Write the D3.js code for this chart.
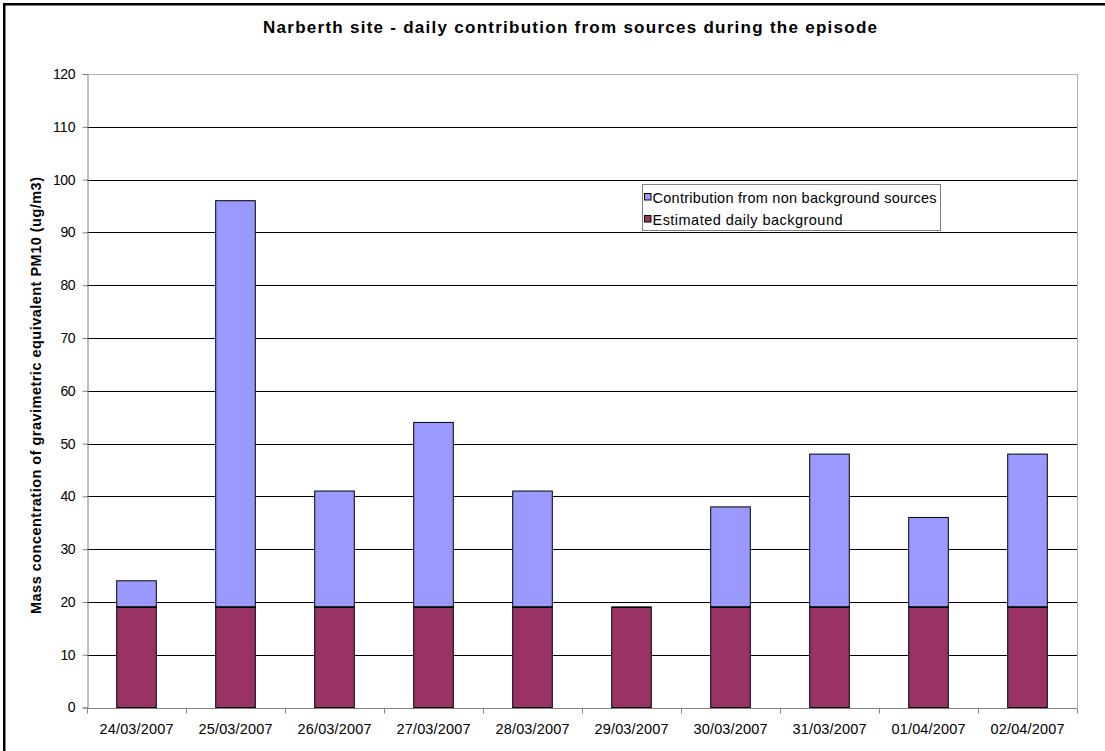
<!DOCTYPE html>
<html>
<head>
<meta charset="utf-8">
<script src="https://cdn.jsdelivr.net/npm/d3@7"></script>
<style>
  html, body { margin: 0; padding: 0; background: #fff; }
  svg { display: block; font-family: "Liberation Sans", Arial, sans-serif; }
</style>
</head>
<body>
<svg id="chart" width="1105" height="751"></svg>
<script>
const title = "Narberth site - daily contribution from sources during the episode";
const yAxisTitle = "Mass concentration of gravimetric equivalent PM10 (ug/m3)";
const categories = ["24/03/2007","25/03/2007","26/03/2007","27/03/2007","28/03/2007","29/03/2007","30/03/2007","31/03/2007","01/04/2007","02/04/2007"];
const background = [19,19,19,19,19,19,19,19,19,19];
const nonBackground = [5,77,22,35,22,0,19,29,17,29];
const yTicks = [0,10,20,30,40,50,60,70,80,90,100,110,120];
const seriesNames = ["Contribution from non background sources","Estimated daily background"];
const seriesColors = ["#9999FF","#993366"];

(function(){
const svg = d3.select("#chart");
const W = 1105, H = 751;
const pL = 87, pR = 1077, pT = 74, pB = 707.5;
const FF = "'Liberation Sans', Arial, sans-serif";

svg.append("rect").attr("x",0).attr("y",0).attr("width",W).attr("height",H).attr("fill","#fff");
// outer chart border (only left & top visible)
svg.append("rect").attr("x",4.25).attr("y",4.25).attr("width",W+20).attr("height",H+20)
  .attr("fill","none").attr("stroke","#000").attr("stroke-width",2.5);

const x = d3.scaleBand().domain(categories).range([pL,pR]).paddingInner(0.6).paddingOuter(0.3);
const xb = d3.scaleBand().domain(categories).range([pL,pR]).padding(0);
const y = d3.scaleLinear().domain([0,120]).range([pB, pT]);

// gridlines
svg.append("g").selectAll("line").data(yTicks.filter(d => d>0 && d<120)).join("line")
  .attr("x1",pL).attr("x2",pR)
  .attr("y1",d=>Math.round(y(d))+0.5).attr("y2",d=>Math.round(y(d))+0.5)
  .attr("stroke","#000").attr("stroke-width",1);

// plot frame top & right
svg.append("line").attr("x1",pL).attr("x2",pR+0.5).attr("y1",Math.round(pT)+0.5).attr("y2",Math.round(pT)+0.5).attr("stroke","#b0b0b0");
svg.append("line").attr("x1",pR+0.5).attr("x2",pR+0.5).attr("y1",pT).attr("y2",pB).attr("stroke","#b0b0b0");

// bars
const data = categories.map((c,i)=>({c, bg: background[i], nb: nonBackground[i]}));
const g = svg.append("g");
data.forEach(d => {
  if (d.nb > 0) {
    g.append("rect").attr("x", x(d.c)).attr("width", x.bandwidth())
      .attr("y", y(d.bg + d.nb)).attr("height", y(d.bg) - y(d.bg + d.nb))
      .attr("fill", seriesColors[0]).attr("stroke","#000").attr("stroke-width",1);
  }
  g.append("rect").attr("x", x(d.c)).attr("width", x.bandwidth())
    .attr("y", y(d.bg)).attr("height", y(0) - y(d.bg))
    .attr("fill", seriesColors[1]).attr("stroke","#000").attr("stroke-width",1);
  g.append("line").attr("x1", x(d.c)).attr("x2", x(d.c)+x.bandwidth())
    .attr("y1", y(d.bg)).attr("y2", y(d.bg)).attr("stroke","#000").attr("stroke-width",1.6);
});

// y axis
const yAxis = d3.axisLeft(y).tickValues(yTicks).tickSize(5).tickPadding(7);
const ya = svg.append("g").attr("transform",`translate(${pL+0.5},0)`).call(yAxis);
ya.select(".domain").attr("stroke","#808080");
ya.selectAll(".tick line").attr("stroke","#808080");
ya.selectAll(".tick text").attr("font-size","14px").attr("fill","#000")
  .attr("font-family",FF).attr("textLength",function(d){ return String(d).length*7.5; })
  .attr("lengthAdjust","spacing");

// x axis
const xAxis = d3.axisBottom(x).tickSize(0).tickPadding(15);
const xa = svg.append("g").attr("transform",`translate(0,${Math.round(pB)+0.5})`).call(xAxis);
xa.select(".domain").attr("stroke","#808080").attr("d",`M${pL},0H${pR+0.5}`);
xa.selectAll(".tick text").attr("font-size","14.5px").attr("fill","#000")
  .attr("font-family",FF).attr("textLength",74).attr("lengthAdjust","spacing");
xa.selectAll(".bt").data(categories.concat(["end"])).join("line")
  .attr("x1",(d,i)=> i<categories.length ? Math.round(xb(d))+0.5 : pR+0.5)
  .attr("x2",(d,i)=> i<categories.length ? Math.round(xb(d))+0.5 : pR+0.5)
  .attr("y1",0).attr("y2",5).attr("stroke","#808080");

// title
svg.append("text").attr("x",570).attr("y",32.5).attr("text-anchor","middle")
  .attr("font-size","17px").attr("font-weight","bold")
  .attr("textLength",614).attr("lengthAdjust","spacing").text(title);

// y axis title
svg.append("text").attr("transform",`translate(40.5,395.5) rotate(-90)`)
  .attr("text-anchor","middle").attr("font-size","14.5px").attr("font-weight","bold")
  .attr("textLength",437).attr("lengthAdjust","spacing").text(yAxisTitle);

// legend
const lg = svg.append("g");
lg.append("rect").attr("x",642.5).attr("y",184.5).attr("width",298).attr("height",46)
  .attr("fill","#fff").attr("stroke","#808080").attr("stroke-width",1);
const legendLen = [284, 190];
seriesNames.forEach((name,i)=>{
  const cy = 197 + i*22;
  lg.append("rect").attr("x",644.5).attr("y",cy-3.5).attr("width",6.5).attr("height",6.5)
    .attr("fill",seriesColors[i]).attr("stroke","#000").attr("stroke-width",1);
  lg.append("text").attr("x",652.5).attr("y",cy+6).attr("font-size","14.5px")
    .attr("textLength",legendLen[i]).attr("lengthAdjust","spacing").text(name);
});
})();
</script>
</body>
</html>
